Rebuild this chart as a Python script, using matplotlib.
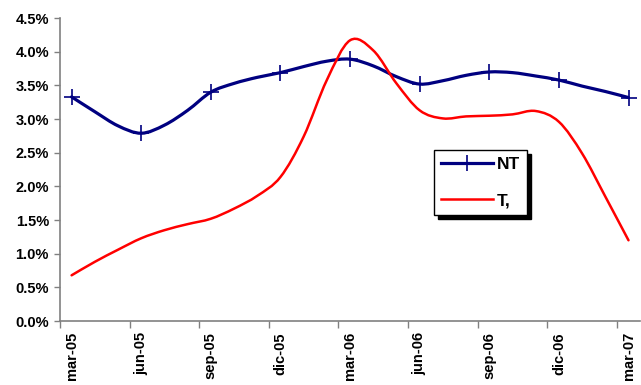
import numpy as np
import matplotlib
matplotlib.use("Agg")
import matplotlib.pyplot as plt
from matplotlib.path import Path
from matplotlib.patches import PathPatch
from matplotlib.lines import Line2D
from matplotlib.ticker import FixedLocator, FuncFormatter

# monthly categories mar-05 .. mar-07
months = ["mar-05", "abr-05", "may-05", "jun-05", "jul-05", "ago-05", "sep-05", "oct-05", "nov-05",
          "dic-05", "ene-06", "feb-06", "mar-06", "abr-06", "may-06", "jun-06", "jul-06", "ago-06",
          "sep-06", "oct-06", "nov-06", "dic-06", "ene-07", "feb-07", "mar-07"]

# values in percent
nt = [3.33, 3.11, 2.90, 2.79, 2.91, 3.13, 3.40, 3.53, 3.62, 3.69, 3.78, 3.86, 3.89,
      3.79, 3.63, 3.52, 3.57, 3.65, 3.70, 3.69, 3.64, 3.58, 3.49, 3.41, 3.32]
t = [0.68, 0.88, 1.06, 1.23, 1.35, 1.44, 1.52, 1.67, 1.86, 2.14, 2.74, 3.58, 4.17,
     4.02, 3.53, 3.13, 3.01, 3.04, 3.05, 3.07, 3.12, 2.96, 2.49, 1.85, 1.20]


def smooth_path(xs, ys):
    # excel-like smoothed line: cubic bezier through the points
    p = np.column_stack([xs, ys]).astype(float)
    pp = np.vstack([p[0], p, p[-1]])
    verts = [p[0]]
    codes = [Path.MOVETO]
    for i in range(len(p) - 1):
        c1 = pp[i + 1] + (pp[i + 2] - pp[i]) / 6
        c2 = pp[i + 2] - (pp[i + 3] - pp[i + 1]) / 6
        verts += [c1, c2, p[i + 1]]
        codes += [Path.CURVE4] * 3
    return Path(verts, codes)


plt.rcParams['font.family'] = ['Liberation Sans', 'DejaVu Sans']
plt.rcParams['font.weight'] = 'bold'

fig = plt.figure(figsize=(6.41, 3.85), dpi=100)
ax = fig.add_axes([0.0936, 0.166, 0.905, 0.787])

x = np.arange(len(months))
nt_col, t_col = '#000080', '#FF0000'
ax.add_patch(PathPatch(smooth_path(x, nt), fill=False, edgecolor=nt_col, lw=2.3, capstyle='round'))
ax.add_patch(PathPatch(smooth_path(x, t), fill=False, edgecolor=t_col, lw=1.8, capstyle='round'))
ax.plot(x[::3], nt[::3], ls='none', marker='+', ms=12, mew=1.2, color=nt_col)

ax.set_xlim(-0.5, len(months) - 0.5)
ax.set_ylim(0, 4.5)
ax.set_yticks(np.arange(0, 4.51, 0.5))
ax.yaxis.set_major_formatter(FuncFormatter(lambda v, p: "%.1f%%" % v))

# labels every quarter centred on the month, tick marks at category boundaries
ax.set_xticks(x[::3])
ax.set_xticklabels(months[::3], rotation=90)
ax.xaxis.set_minor_locator(FixedLocator(x[::3] - 0.5))
ax.tick_params(axis='x', which='major', length=0, pad=8, labelsize=10.5)
ax.tick_params(axis='x', which='minor', length=5, width=1, color='#808080', direction='out')
ax.tick_params(axis='y', length=4, width=1, color='#808080', labelsize=10.5, pad=4)

for s in ['top', 'right']:
    ax.spines[s].set_visible(False)
for s in ['left', 'bottom']:
    ax.spines[s].set_color('#808080')
    ax.spines[s].set_linewidth(1.2)

handles = [Line2D([], [], color=nt_col, lw=2.3, marker='+', ms=12, mew=1.2),
           Line2D([], [], color=t_col, lw=1.8)]
leg = ax.legend(handles, ['NT', 'T,'], loc='upper left', bbox_to_anchor=(0.645, 0.564),
                borderaxespad=0, fancybox=False, frameon=True, edgecolor='black',
                handlelength=3.0, labelspacing=1.2, borderpad=0.4, handletextpad=0.2,
                prop={'size': 12.5, 'weight': 'bold'},
                shadow={'ox': 3, 'oy': -3, 'color': 'black', 'alpha': 1})
leg.get_frame().set_linewidth(1.0)

fig.savefig('out.png', dpi=100)
